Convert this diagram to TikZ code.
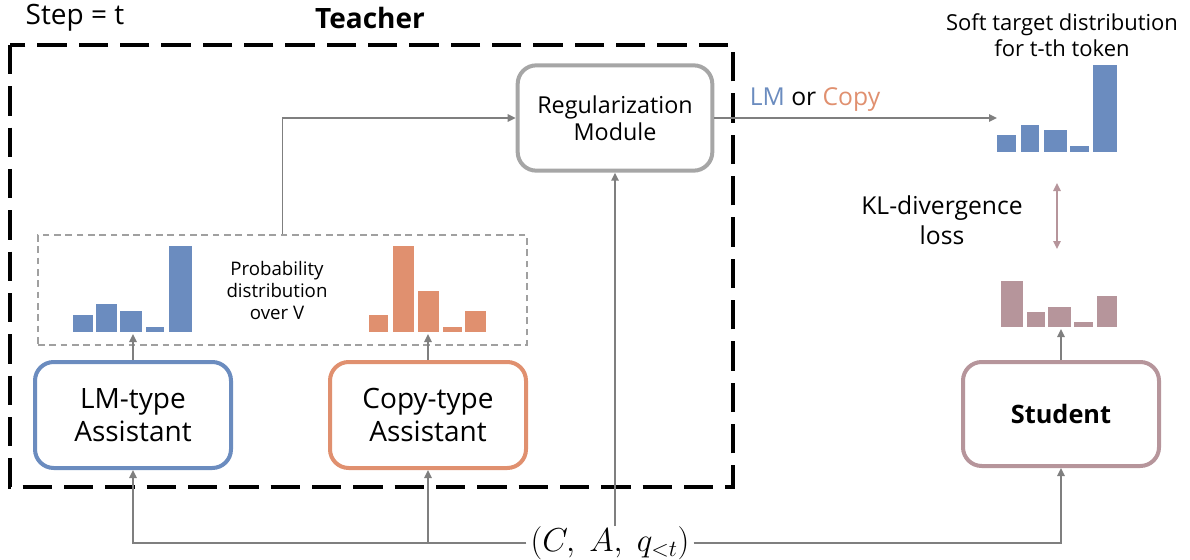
\documentclass[tikz,border=0pt]{standalone}
\usepackage{fontspec}
\setmainfont{Open Sans}
\usetikzlibrary{arrows.meta}
\definecolor{cblue}{HTML}{6B8CBF}
\definecolor{corange}{HTML}{E0906F}
\definecolor{cmauve}{HTML}{B6959B}
\definecolor{cline}{HTML}{7F7F7F}
\definecolor{cregbox}{HTML}{A6A6A6}
\definecolor{cdash}{HTML}{A0A0A0}
\tikzset{
  box/.style={draw, line width=3pt, rounded corners=14pt, fill=white, align=center, inner sep=0pt},
  arr/.style={draw=cline, line width=1.4pt, -{Triangle[length=6pt,width=5.5pt]}},
  lbl/.style={align=center, inner sep=0pt},
}
\begin{document}
\begin{tikzpicture}[x=0.75pt,y=-0.75pt]
\useasboundingbox (0,0) rectangle (1190,560);
% Teacher region
\draw[line width=3pt, dash pattern=on 22pt off 9pt] (10,45) rectangle (733,487);
\node[lbl, font=\fontsize{21}{25}\selectfont] (step) at (75,18) {Step = t};
\node[lbl, font=\fontsize{21}{25}\selectfont\bfseries] (teacher) at (370,18) {Teacher};
% probability region
\node[draw=cdash, line width=1.1pt, dash pattern=on 5pt off 3.5pt, minimum width=366.75pt, minimum height=82.5pt, inner sep=0pt] (probbox) at (282.5,290) {};
\node[lbl, font=\fontsize{14}{16.5}\selectfont] (problbl) at (277,290) {Probability\\distribution\\over V};
% LM bars
\fill[cblue] (73,332) rectangle (93,315);
\fill[cblue] (96,332) rectangle (117,304);
\fill[cblue] (120,332) rectangle (142,311);
\fill[cblue] (146,332) rectangle (164,327);
\fill[cblue] (169,332) rectangle (192,246);
\coordinate (lmbars) at (133,334);
% Copy bars
\fill[corange] (369,332) rectangle (388,315);
\fill[corange] (393,332) rectangle (414,246);
\fill[corange] (418,332) rectangle (439,291);
\fill[corange] (443,332) rectangle (462,327);
\fill[corange] (465,332) rectangle (486,311);
\coordinate (copybars) at (428,334);
% soft target bars
\fill[cblue] (997,152) rectangle (1016,135);
\fill[cblue] (1021,152) rectangle (1039,125);
\fill[cblue] (1044,152) rectangle (1067,130);
\fill[cblue] (1070,152) rectangle (1089,146);
\fill[cblue] (1093,152) rectangle (1117,65);
\coordinate (softin) at (997,118);
\node[lbl, font=\fontsize{16.5}{19.5}\selectfont] (softlbl) at (1062,35) {Soft target distribution\\for t-th token};
% student bars
\fill[cmauve] (1001,327) rectangle (1023,281);
\fill[cmauve] (1027,327) rectangle (1045,312);
\fill[cmauve] (1048,327) rectangle (1071,307);
\fill[cmauve] (1074,327) rectangle (1093,322);
\fill[cmauve] (1097,327) rectangle (1117,296);
\coordinate (stubars) at (1061,329);
% boxes
\node[box, draw=cregbox, minimum width=146pt, minimum height=79pt, font=\fontsize{17.5}{20.5}\selectfont] (reg) at (615,118) {Regularization\\Module};
\node[box, draw=cblue, minimum width=147pt, minimum height=79.5pt, font=\fontsize{21}{25}\selectfont] (lm) at (133,415) {LM-type\\Assistant};
\node[box, draw=corange, minimum width=147pt, minimum height=79.5pt, font=\fontsize{21}{25}\selectfont] (copy) at (428,415) {Copy-type\\Assistant};
\node[box, draw=cmauve, minimum width=147pt, minimum height=78pt, font=\fontsize{19}{22}\selectfont\bfseries] (student) at (1061,414) {Student};
% input
\node[lbl, font=\fontsize{25}{29}\selectfont, fill=white, inner xsep=3pt] (inp) at (610,543) {$(C,\ A,\ q_{<t})$};
% labels
\node[lbl, font=\fontsize{18.5}{22}\selectfont] (lmorcopy) at (815,100) {\textcolor{cblue}{LM} or \textcolor{corange}{Copy}};
\node[lbl, font=\fontsize{18.5}{22.5}\selectfont] (kl) at (942,220) {KL-divergence\\loss};
\coordinate (kltop) at (1057,183);
\coordinate (klbot) at (1057,249);
% connectors
\draw[arr] (probbox.north) |- (reg.west);
\draw[arr] (reg.east) -- (softin);
\draw[arr] (lm.north) -- (lmbars);
\draw[arr] (copy.north) -- (copybars);
\draw[arr] (student.north) -- (stubars);
\draw[arr] (inp.west) -| (lm.south);
\draw[arr] (copy.south |- inp.west) -- (copy.south);
\draw[arr] (inp.east) -| (student.south);
\draw[arr] (reg.south |- inp.north) -- (reg.south);
\draw[draw=cmauve, line width=1.4pt, {Triangle[length=6pt,width=5.5pt]}-{Triangle[length=6pt,width=5.5pt]}] (kltop) -- (klbot);
\end{tikzpicture}
\end{document}
